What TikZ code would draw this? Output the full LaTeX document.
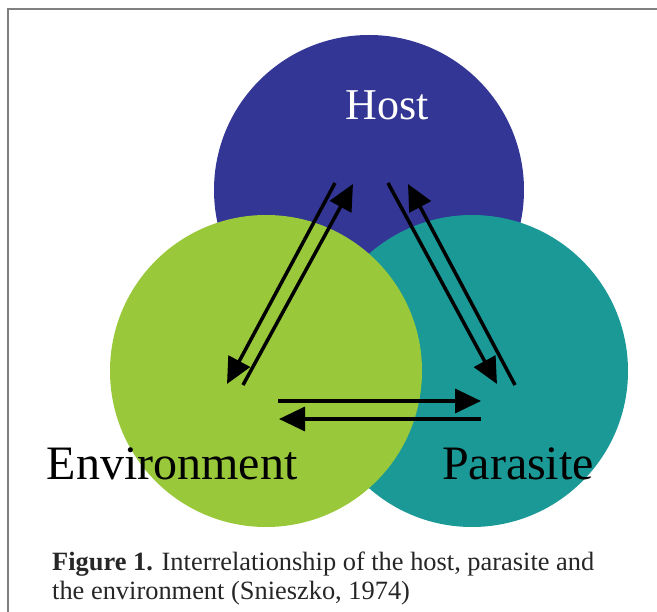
\documentclass[tikz,border=0pt]{standalone}
\usepackage{fontspec}
\setmainfont{Liberation Serif}
\usetikzlibrary{arrows.meta,positioning,calc}
\definecolor{hostblue}{RGB}{51,54,148}
\definecolor{envgreen}{RGB}{153,201,59}
\definecolor{parateal}{RGB}{26,153,150}
\tikzset{
  blob/.style={circle,inner sep=0pt,minimum size=312pt},
  label/.style={anchor=base,font=\fontsize{48}{52}\selectfont},
  link/.style={line width=3.5pt,-{Triangle[length=26pt,width=24pt]}}
}

\begin{document}
\begin{tikzpicture}[x=1pt,y=-1pt]
        \useasboundingbox (0,0) rectangle (657,612);
        \draw [gray,line width=1.5pt] (8,612) -- (8,9) -- (657,9);
        \node [blob,fill=hostblue,minimum size=310pt] (host) at (369,190) {};
        \node [blob,fill=parateal] (parasite) at (472,371) {};
        \node [blob,fill=envgreen] (env) at (266,371) {};
        \node [label,white,font=\fontsize{44}{48}\selectfont] (hostlabel) at (387,120) {Host};
        \node [label] (envlabel) at (172,480) {Environment};
        \node [label] (paralabel) at (518,480) {Parasite};
        % ends of the arrows
        \coordinate (a1) at (335,183); \coordinate (a2) at (227,384);
        \coordinate (b1) at (243,385); \coordinate (b2) at (353,184);
        \coordinate (c1) at (388,183); \coordinate (c2) at (497,384);
        \coordinate (d1) at (515,385); \coordinate (d2) at (408,184);
        \coordinate (e1) at (278,401); \coordinate (e2) at (481,401);
        \coordinate (f1) at (481,419); \coordinate (f2) at (279,419);
        \draw [link] (a1) -- (a2);
        \draw [link] (b1) -- (b2);
        \draw [link] (c1) -- (c2);
        \draw [link] (d1) -- (d2);
        \draw [link] (e1) -- (e2);
        \draw [link] (f1) -- (f2);
        \node [anchor=base west,align=left,inner sep=0pt,font=\fontsize{26.4}{29}\selectfont,text=black!85] (caption) at (52,600)
          {\textbf{Figure 1.} Interrelationship of the host, parasite and\\the environment (Snieszko, 1974)};
      \end{tikzpicture}
\end{document}
